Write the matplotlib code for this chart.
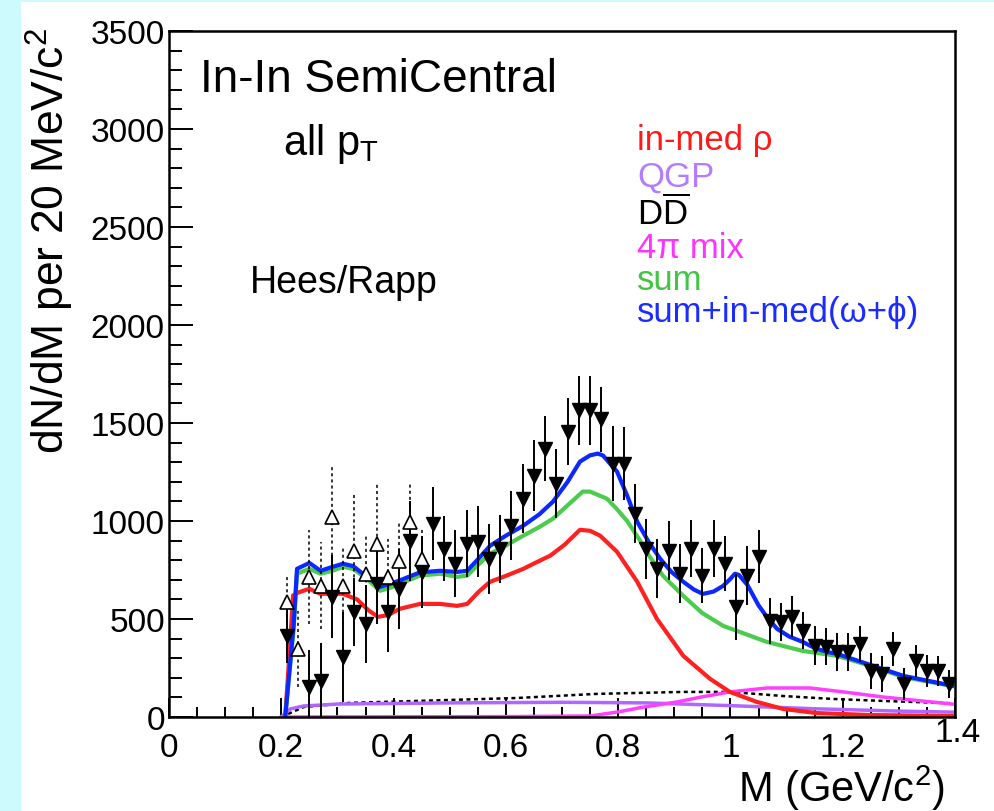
import matplotlib
matplotlib.use("Agg")
import matplotlib.pyplot as plt
from matplotlib.patches import Rectangle
from matplotlib.ticker import MultipleLocator, FuncFormatter
from matplotlib.transforms import ScaledTranslation

plt.rcParams['font.family'] = ['Liberation Sans', 'DejaVu Sans']
plt.rcParams['mathtext.fontset'] = 'custom'
plt.rcParams['mathtext.rm'] = 'Liberation Sans'
plt.rcParams['mathtext.it'] = 'Liberation Sans:italic'
plt.rcParams['mathtext.bf'] = 'Liberation Sans:bold'

# NA60 data, closed triangles (M, yield, error)
data_m = [0.21, 0.25, 0.27, 0.29, 0.31, 0.33, 0.35, 0.37, 0.39, 0.41, 0.43, 0.45,
          0.47, 0.49, 0.51, 0.53, 0.55, 0.57, 0.59, 0.61, 0.63, 0.65, 0.67, 0.69,
          0.71, 0.73, 0.75, 0.77, 0.79, 0.81, 0.83, 0.85, 0.87, 0.89, 0.91, 0.93,
          0.95, 0.97, 0.99, 1.01, 1.03, 1.05, 1.07, 1.09, 1.11, 1.13, 1.15, 1.17,
          1.19, 1.21, 1.23, 1.25, 1.27, 1.29, 1.31, 1.33, 1.35, 1.37, 1.39]
data_y = [414, 153, 184, 613, 307, 536, 475, 680, 536, 654, 899, 741,
          986, 858, 782, 884, 894, 807, 858, 976, 1114, 1232, 1369, 1191,
          1456, 1564, 1564, 1518, 1293, 1293, 1037, 858, 756, 848, 731, 858,
          720, 858, 782, 562, 720, 818, 490, 485, 511, 440, 363, 358,
          332, 332, 373, 235, 220, 347, 169, 286, 235, 235, 169]
data_e = [140, 190, 195, 212, 230, 172, 200, 205, 205, 205, 205, 185,
          186, 166, 170, 170, 180, 180, 175, 175, 175, 180, 165, 175,
          170, 175, 175, 165, 190, 185, 150, 153, 150, 150, 150, 145,
          140, 145, 140, 170, 150, 135, 115, 95, 105, 95, 100, 95,
          95, 95, 90, 90, 90, 85, 80, 80, 80, 75, 70]

# open triangles (low mass)
open_m = [0.21, 0.23, 0.25, 0.27, 0.29, 0.31, 0.33, 0.35, 0.37, 0.39, 0.41, 0.43, 0.45]
open_y = [588, 347, 715, 670, 1022, 670, 848, 731, 884, 715, 797, 996, 807]
open_e = [140, 195, 240, 222, 263, 200, 290, 200, 310, 195, 200, 200, 150]

# Hees/Rapp model curves
red_m = [0.207, 0.214, 0.221, 0.230, 0.250, 0.270, 0.290, 0.310, 0.335, 0.355,
         0.372, 0.390, 0.411, 0.447, 0.483, 0.513, 0.531, 0.552, 0.572, 0.600,
         0.631, 0.655, 0.679, 0.705, 0.732, 0.750, 0.768, 0.798, 0.834, 0.869,
         0.916, 0.964, 0.999, 1.047, 1.094, 1.154, 1.250, 1.395]
red_y = [0, 300, 620, 635, 654, 628, 630, 628, 600, 545,
         511, 520, 552, 577, 577, 567, 577, 640, 690, 720,
         756, 790, 823, 880, 955, 950, 925, 843, 690, 501,
         312, 194, 128, 77, 41, 20, 10, 5]

green_m = [0.207, 0.222, 0.228, 0.250, 0.270, 0.290, 0.310, 0.328, 0.350, 0.376,
           0.395, 0.411, 0.447, 0.483, 0.513, 0.531, 0.552, 0.572, 0.600, 0.631,
           0.660, 0.684, 0.710, 0.737, 0.750, 0.780, 0.798, 0.816, 0.839, 0.851,
           0.880, 0.916, 0.950, 0.987, 1.030, 1.065, 1.129, 1.190, 1.249, 1.308, 1.395]
green_y = [0, 450, 731, 756, 731, 745, 766, 756, 710, 644,
           660, 680, 721, 731, 715, 721, 780, 833, 875, 925,
           970, 1012, 1080, 1150, 1150, 1114, 1060, 1000, 900, 840,
           720, 618, 530, 465, 420, 383, 337, 312, 261, 204, 158]

blue_m = [0.207, 0.222, 0.228, 0.250, 0.270, 0.290, 0.310, 0.328, 0.350, 0.376,
          0.395, 0.411, 0.447, 0.483, 0.513, 0.531, 0.552, 0.572, 0.600, 0.631,
          0.660, 0.684, 0.710, 0.732, 0.750, 0.764, 0.773, 0.798, 0.816, 0.834,
          0.855, 0.875, 0.895, 0.916, 0.935, 0.951, 0.970, 0.987, 1.000, 1.008,
          1.015, 1.030, 1.050, 1.065, 1.083, 1.105, 1.129, 1.150, 1.172, 1.190,
          1.249, 1.308, 1.395]
blue_y = [0, 470, 756, 786, 746, 765, 782, 770, 720, 664,
          680, 697, 738, 746, 740, 746, 810, 874, 925, 976,
          1035, 1099, 1200, 1303, 1335, 1344, 1334, 1252, 1130, 996,
          890, 807, 740, 690, 650, 628, 640, 669, 705, 731,
          725, 675, 570, 510, 450, 410, 383, 352, 332, 322,
          266, 210, 160]

qgp_m = [0.200, 0.216, 0.239, 0.300, 0.500, 0.700, 0.850, 1.000, 1.150, 1.300, 1.395]
qgp_y = [0, 41, 56, 66, 72, 75, 72, 58, 42, 30, 25]

mix_m = [0.200, 0.600, 0.750, 0.800, 0.840, 0.905, 0.950, 0.999, 1.065, 1.142, 1.201, 1.272, 1.395]
mix_y = [0, 2, 5, 26, 48, 77, 103, 128, 148, 148, 128, 102, 66]

dd_m = [0.200, 0.240, 0.322, 0.441, 0.620, 0.762, 0.916, 0.999, 1.094, 1.183, 1.272, 1.395]
dd_y = [0, 51, 72, 82, 97, 118, 128, 128, 107, 92, 82, 70]

legend_labels = ['in-med ρ', 'QGP', r'D$\overline{\mathrm{D}}$', '4π mix', 'sum',
                 'sum+in-med(ω+ϕ)']
legend_colors = ['#ff1a1a', '#b47cff', 'black', '#ff33ff', '#44c444', '#1a2cff']

fig = plt.figure(figsize=(9.94, 8.12), dpi=100)
fig.patches.append(Rectangle((0, 0), 21 / 994, 1, transform=fig.transFigure,
                             facecolor='#cdfbfd', edgecolor='none', zorder=0))
fig.patches.append(Rectangle((0, 1 - 3 / 812), 1, 3 / 812, transform=fig.transFigure,
                             facecolor='#cdfbfd', edgecolor='none', zorder=0))

ax = fig.add_axes([169 / 994, 94 / 812, 786 / 994, 686 / 812])

ax.plot(dd_m, dd_y, color='black', lw=1.8, ls=(0, (1.6, 1.4)))
ax.plot(qgp_m, qgp_y, color='#b066ff', lw=2.5)
ax.plot(mix_m, mix_y, color='#ff40ff', lw=2.5)
ax.plot(red_m, red_y, color='#ff2020', lw=3)
ax.plot(green_m, green_y, color='#4ccc4c', lw=3)
ax.plot(blue_m, blue_y, color='#0a28ff', lw=3)

eb = ax.errorbar(open_m, open_y, yerr=open_e, fmt='^', ms=10.5, mfc='white',
                 mec='black', mew=1.2, ecolor='black', elinewidth=1.1, capsize=0)
eb[2][0].set_linestyle((0, (2, 2)))
ax.errorbar(data_m, data_y, yerr=data_e, fmt='v', ms=10.5, color='black',
            ecolor='black', elinewidth=1.4, capsize=0)

ax.set_xlim(0, 1.4)
ax.set_ylim(0, 3500)
ax.xaxis.set_major_locator(MultipleLocator(0.2))
ax.xaxis.set_minor_locator(MultipleLocator(0.05))
ax.yaxis.set_major_locator(MultipleLocator(500))
ax.yaxis.set_minor_locator(MultipleLocator(100))
ax.xaxis.set_major_formatter(FuncFormatter(lambda v, p: f'{v:g}'))
ax.tick_params(axis='both', which='both', direction='in', top=False, right=False,
               width=1.4, labelsize=24)
ax.tick_params(axis='y', which='major', length=17, pad=3)
ax.tick_params(axis='y', which='minor', length=9)
ax.tick_params(axis='x', which='major', length=14, pad=11)
ax.tick_params(axis='x', which='minor', length=7)
for s in ax.spines.values():
    s.set_linewidth(1.8)

# ROOT puts the last x label a bit higher, clear of the axis title
fig.canvas.draw()
for lab in ax.get_xticklabels():
    if lab.get_text() == '1.4':
        lab.set_transform(lab.get_transform() + ScaledTranslation(0.03, 0.15, fig.dpi_scale_trans))

ax.text((50 - 169) / 786, (718 - 28) / 686, r'dN/dM per 20 MeV/c$^{2}$',
        rotation=90, ha='center', va='top', fontsize=32, transform=ax.transAxes)
ax.text((945 - 169) / 786, (718 - 788) / 686, r'M (GeV/c$^{2}$)',
        ha='right', va='center', fontsize=30, transform=ax.transAxes)

ax.text((200 - 169) / 786, (718 - 92) / 686, 'In-In SemiCentral', fontsize=33,
        ha='left', va='baseline', transform=ax.transAxes)
ax.text((283 - 169) / 786, (718 - 155) / 686, r'all p$_{\mathrm{T}}$', fontsize=30,
        ha='left', va='baseline', transform=ax.transAxes)
ax.text((250 - 169) / 786, (718 - 293) / 686, 'Hees/Rapp', fontsize=27,
        ha='left', va='baseline', transform=ax.transAxes)

leg_base = [150, 187, 225, 258, 290, 322]
for lab, col, b in zip(legend_labels, legend_colors, leg_base):
    ax.text((637 - 169) / 786, (718 - b) / 686, lab, color=col, fontsize=25,
            ha='left', va='baseline', transform=ax.transAxes)

fig.savefig('out.png', dpi=100)
